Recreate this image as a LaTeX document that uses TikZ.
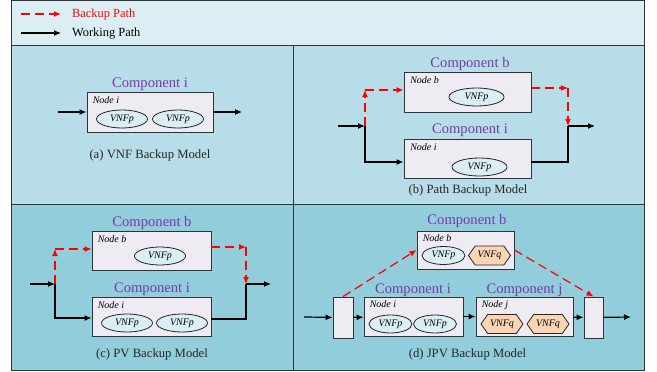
\documentclass[tikz,border=0pt]{standalone}
\usepackage{fontspec}
\setmainfont{Liberation Serif}
\usetikzlibrary{shapes.geometric,shapes.symbols,arrows.meta}
\definecolor{legendbg}{RGB}{218,238,243}
\definecolor{rowone}{RGB}{183,222,232}
\definecolor{rowtwo}{RGB}{146,205,220}
\definecolor{boxfill}{RGB}{238,235,242}
\definecolor{vnfpfill}{RGB}{218,238,243}
\definecolor{vnfqfill}{RGB}{250,213,180}
\definecolor{comppurple}{RGB}{120,56,170}
\tikzset{
	nodebox/.style={draw=black!80,fill=boxfill,line width=0.9pt,inner sep=0pt},
	vnfp/.style={ellipse,draw=black!85,fill=vnfpfill,line width=0.8pt,minimum width=51pt,minimum height=18pt,inner sep=0pt,font=\fontsize{10}{12}\selectfont\itshape},
	vnfq/.style={signal,signal to=west and east,signal pointer angle=110,draw=black!85,fill=vnfqfill,line width=0.8pt,minimum width=42pt,minimum height=19pt,inner sep=0pt,font=\fontsize{10}{12}\selectfont\itshape},
	nodelabel/.style={anchor=base west,inner sep=0pt,font=\fontsize{10}{12}\selectfont\itshape},
	comptitle/.style={anchor=base,inner sep=0pt,text=comppurple,font=\fontsize{14.6}{16}\selectfont},
	caption/.style={anchor=base,inner sep=0pt,text=black!85,font=\fontsize{12.7}{14}\selectfont},
	working/.style={line width=1.2pt,black},
	backup/.style={line width=1.2pt,red,dash pattern=on 9pt off 5pt},
}
\begin{document}
\begin{tikzpicture}[x=1pt,y=-1pt,>={Latex[length=7pt,width=6pt]}]
	\useasboundingbox (0,0) rectangle (657,372);
	\fill[legendbg] (11,0) rectangle (644,45);
	\fill[rowone] (11,45) rectangle (644,204);
	\fill[rowtwo] (11,204) rectangle (644,370);
	\draw[black!80,line width=1pt] (11,0.5) rectangle (644,370) (11,45) -- (644,45) (11,204) -- (644,204) (293,45) -- (293,370);

	\coordinate (lgB1) at (21,14);
	\coordinate (lgB2) at (61,14);
	\coordinate (lgW1) at (21,33);
	\coordinate (lgW2) at (61,33);
	\draw[backup,->] (lgB1) -- (lgB2);
	\draw[working,->] (lgW1) -- (lgW2);
	\node[anchor=base west,inner sep=0pt,text=red,font=\fontsize{12.4}{14}\selectfont] (lgBt) at (72,17.5) {Backup Path};
	\node[anchor=base west,inner sep=0pt,font=\fontsize{12.4}{14}\selectfont] (lgWt) at (72,36.7) {Working Path};

	\node[comptitle] (tA) at (150,87.3) {Component i};
	\node[nodebox,minimum width=126pt,minimum height=40pt] (boxA) at (150,112) {};
	\node[nodelabel] (lbA) at ([shift={(6,12)}]boxA.north west) {Node i};
	\node[vnfp] (pA1) at (122,119) {VNFp};
	\node[vnfp] (pA2) at (178,119) {VNFp};
	\coordinate (inA) at (58,112);
	\coordinate (outA) at (242,112);
	\draw[working,->] (inA) -- (boxA);
	\draw[working,->] (boxA) -- (outA);
	\node[caption] (capA) at (150,158) {(a) VNF Backup Model};

	\node[comptitle] (tBb) at (470,67) {Component b};
	\node[nodebox,minimum width=127pt,minimum height=40pt] (boxBb) at (467.5,92) {};
	\node[nodelabel] (lbBb) at ([shift={(6.5,11.5)}]boxBb.north west) {Node b};
	\node[vnfp,minimum width=55pt] (pBb) at (476.5,97) {VNFp};
	\node[comptitle] (tBi) at (470,133) {Component i};
	\node[nodebox,minimum width=127pt,minimum height=39pt] (boxBi) at (467.5,158.5) {};
	\node[nodelabel] (lbBi) at ([shift={(6.5,11.5)}]boxBi.north west) {Node i};
	\node[vnfp,minimum width=55pt] (pBi) at (479.5,167) {VNFp};
	\coordinate (inB) at (338,126);
	\coordinate (splitB) at (365,126);
	\coordinate (cB1) at (365,90);
	\coordinate (cB2) at (568,88);
	\coordinate (joinB) at (568,126);
	\coordinate (outB) at (595,126);
	\draw[working,->] (inB) -- (splitB);
	\draw[working,->] (splitB) |- ([yshift=-3.5pt]boxBi.west);
	\draw[working] ([yshift=-3.5pt]boxBi.east) -| (joinB);
	\draw[working,->] (joinB) -- (outB);
	\draw[backup,->] (splitB) -- (cB1);
	\draw[backup,->] (cB1) -- (cB1 -| boxBb.west);
	\draw[backup,->] (cB2 -| boxBb.east) -- (cB2);
	\draw[backup,->] (cB2) -- (joinB);
	\node[caption] (capB) at (468,193) {(b) Path Backup Model};

	\node[comptitle] (tCb) at (152,226) {Component b};
	\node[nodebox,minimum width=119pt,minimum height=39pt] (boxCb) at (151.5,250.5) {};
	\node[nodelabel] (lbCb) at ([shift={(6,11.5)}]boxCb.north west) {Node b};
	\node[vnfp] (pCb) at (160,256) {VNFp};
	\node[comptitle] (tCi) at (152,292) {Component i};
	\node[nodebox,minimum width=119pt,minimum height=39pt] (boxCi) at (151.5,316.5) {};
	\node[nodelabel] (lbCi) at ([shift={(6,11.5)}]boxCi.north west) {Node i};
	\node[vnfp] (pCi1) at (127,323) {VNFp};
	\node[vnfp] (pCi2) at (182,323) {VNFp};
	\coordinate (inC) at (30,284);
	\coordinate (splitC) at (55,284);
	\coordinate (cC1) at (55,249);
	\coordinate (cC2) at (246,247);
	\coordinate (joinC) at (246,284);
	\coordinate (outC) at (271,284);
	\draw[working,->] (inC) -- (splitC);
	\draw[working,->] (splitC) |- ([yshift=-1.5pt]boxCi.west);
	\draw[working] ([yshift=-2.5pt]boxCi.east) -| (joinC);
	\draw[working,->] (joinC) -- (outC);
	\draw[backup,->] (splitC) -- (cC1);
	\draw[backup,->] (cC1) -- (cC1 -| boxCb.west);
	\draw[backup,->] (cC2 -| boxCb.east) -- (cC2);
	\draw[backup,->] (cC2) -- (joinC);
	\node[caption] (capC) at (152,357) {(c) PV Backup Model};

	\node[comptitle] (tDb) at (467,224) {Component b};
	\node[nodebox,minimum width=97pt,minimum height=38pt] (boxDb) at (465.5,250) {};
	\node[nodelabel] (lbDb) at ([shift={(6,11)}]boxDb.north west) {Node b};
	\node[vnfp,minimum width=43pt] (pDb) at (443.5,255.5) {VNFp};
	\node[vnfq] (qDb) at (489.5,255.5) {VNFq};
	\node[comptitle] (tDi) at (413,293) {Component i};
	\node[nodebox,minimum width=99pt,minimum height=39pt] (boxDi) at (413.5,316.5) {};
	\node[nodelabel] (lbDi) at ([shift={(6,11)}]boxDi.north west) {Node i};
	\node[vnfp,minimum width=43pt] (pDi1) at (390.5,324) {VNFp};
	\node[vnfp,minimum width=43pt] (pDi2) at (435,324) {VNFp};
	\node[comptitle] (tDj) at (524.5,293) {Component j};
	\node[nodebox,minimum width=97pt,minimum height=39pt] (boxDj) at (524.5,316.5) {};
	\node[nodelabel] (lbDj) at ([shift={(6,11)}]boxDj.north west) {Node j};
	\node[vnfq] (qDj1) at (502,324) {VNFq};
	\node[vnfq] (qDj2) at (548,324) {VNFq};
	\node[nodebox,minimum width=20pt,minimum height=41pt] (sL) at (343,317.5) {};
	\node[nodebox,minimum width=19pt,minimum height=41pt] (sR) at (593.5,317.5) {};
	\coordinate (inD) at (304,317);
	\coordinate (outD) at (631,317);
	\draw[working,->] (inD) -- (sL);
	\draw[working,->] (sL) -- (boxDi);
	\draw[working,->] (boxDi) -- (boxDj);
	\draw[working,->] (boxDj) -- (sR);
	\draw[working,->] (sR) -- (outD);
	\draw[backup,->] (sL.north) -- (boxDb.west);
	\draw[backup,->] (boxDb.east) -- (sR.north);
	\node[caption] (capD) at (467.5,357) {(d) JPV Backup Model};
\end{tikzpicture}
\end{document}
